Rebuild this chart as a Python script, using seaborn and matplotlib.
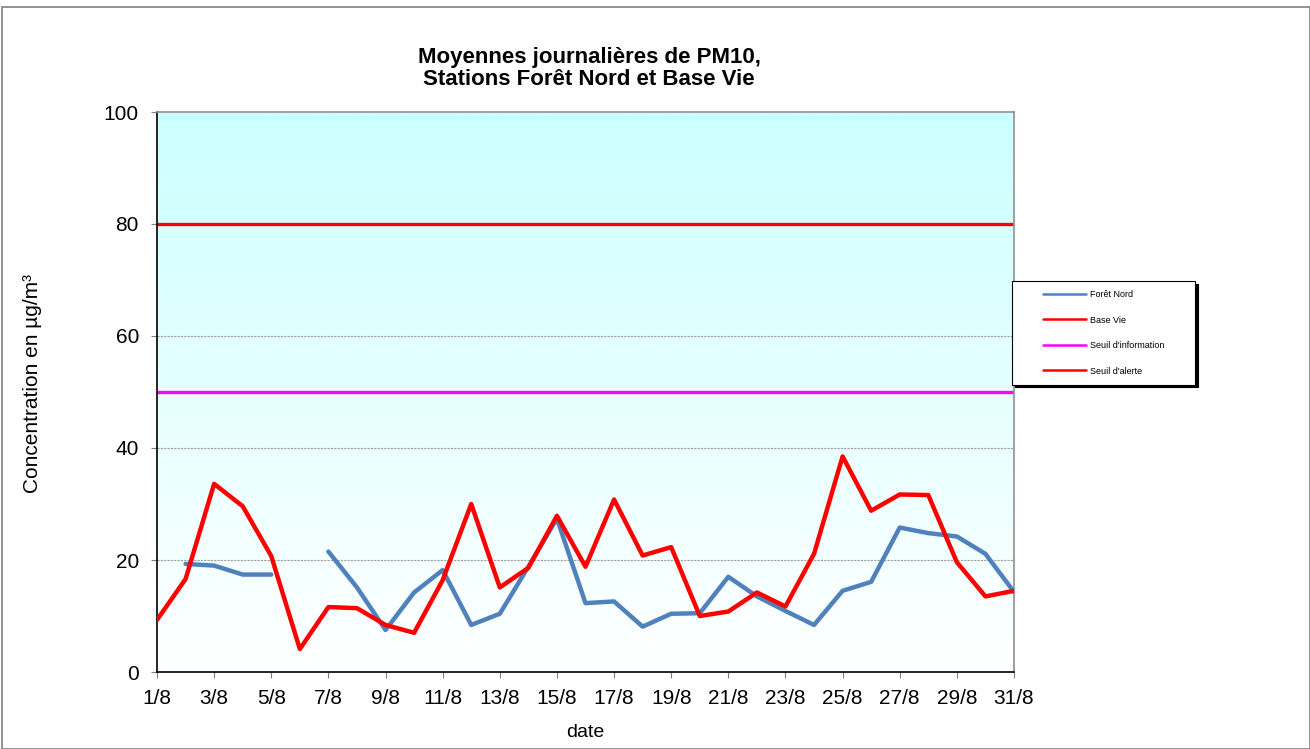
import numpy as np
import pandas as pd
import matplotlib
matplotlib.use("Agg")
import matplotlib.pyplot as plt
import seaborn as sns
from matplotlib.colors import LinearSegmentedColormap
from matplotlib.patches import Rectangle
from matplotlib.lines import Line2D
from matplotlib.legend_handler import HandlerLine2D

# ---- data ----
days = list(range(1, 32))
foret_nord = [np.nan, 19.3, 19.0, 17.4, 17.4, np.nan, 21.5, 15.1, 7.5, 14.2,
              18.2, 8.4, 10.4, 18.8, 27.4, 12.3, 12.6, 8.1, 10.4, 10.5,
              17.0, 13.5, 10.9, 8.4, 14.5, 16.1, 25.8, 24.8, 24.2, 21.1, 14.3]
base_vie = [9.3, 16.6, 33.6, 29.6, 20.7, 4.1, 11.6, 11.4, 8.4, 7.0,
            16.4, 30.0, 15.1, 18.6, 27.9, 18.8, 30.8, 20.8, 22.3, 10.0,
            10.8, 14.2, 11.7, 21.1, 38.5, 28.8, 31.7, 31.6, 19.6, 13.5, 14.5]
seuil_information = 50
seuil_alerte = 80
tick_days = list(range(1, 32, 2))
tick_labels = [f"{d}/8" for d in tick_days]
y_ticks = [0, 20, 40, 60, 80, 100]
legend_labels = ["Forêt Nord", "Base Vie", "Seuil d'information", "Seuil d'alerte"]
legend_colors = ["#4F81BD", "#FF0000", "#FF00FF", "#FF0000"]

sns.set_theme(style="white")
plt.rcParams['font.family'] = ['Liberation Sans', 'DejaVu Sans']
plt.rcParams['text.color'] = 'black'
plt.rcParams['axes.labelcolor'] = 'black'

fig = plt.figure(figsize=(13.1, 7.49), dpi=100)
W, H = 1310, 749
ax = fig.add_axes([157 / W, 1 - 672 / H, (1014 - 157) / W, (672 - 112) / H])

# gradient background
cmap = LinearSegmentedColormap.from_list("bg", ["#FFFFFF", "#CCFFFF"])
grad = np.linspace(0, 1, 256).reshape(-1, 1)
ax.imshow(grad, cmap=cmap, aspect="auto", origin="lower",
          extent=[0, 1, 0, 1], transform=ax.transAxes, zorder=0)

# grid
for yv in [20, 40, 60]:
    ax.axhline(yv, color="#A0A0A0", lw=0.8, ls=(0, (2, 1)), zorder=1)

df_fn = pd.DataFrame({"day": days, "val": foret_nord})
df_fn["seg"] = df_fn["val"].isna().cumsum()
df_fn = df_fn.dropna()
df_bv = pd.DataFrame({"day": days, "val": base_vie})

sns.lineplot(data=df_fn, x="day", y="val", units="seg", estimator=None,
             color="#4F81BD", lw=3.2, ax=ax, zorder=3)
sns.lineplot(data=df_bv, x="day", y="val", color="#FF0000", lw=3.2, ax=ax, zorder=4)
ax.axhline(seuil_information, color="#FF00FF", lw=2.4, zorder=2)
ax.axhline(seuil_alerte, color="#FF0000", lw=2.4, zorder=2)

ax.set_xlim(1, 31)
ax.set_ylim(0, 100)
ax.set_xticks(tick_days)
ax.set_xticklabels(tick_labels)
ax.set_yticks(y_ticks)
ax.tick_params(axis="both", labelsize=15, length=4.5, width=0.8, color="#808080",
               labelcolor="black", direction="out", bottom=True, left=True)
ax.tick_params(axis="x", pad=8)
ax.tick_params(axis="y", pad=8.5)
ax.set_xlabel("date", fontsize=14, labelpad=11)
ax.set_ylabel("Concentration en µg/m³", fontsize=15)
ax.yaxis.set_label_coords((42 - 157) / (1014 - 157), 0.515)

for s in ["left", "bottom"]:
    ax.spines[s].set_color("black")
    ax.spines[s].set_linewidth(1.2)
for s in ["top", "right"]:
    ax.spines[s].set_color("#909090")
    ax.spines[s].set_linewidth(1.2)

fig.text(589 / W, 1 - 63 / H, "Moyennes journalières de PM10,",
         ha="center", va="baseline", fontsize=16, fontweight="bold")
fig.text(589 / W, 1 - 85 / H, "Stations Forêt Nord et Base Vie",
         ha="center", va="baseline", fontsize=16, fontweight="bold")


class PadHandler(HandlerLine2D):
    def create_artists(self, legend, orig_handle, xdescent, ydescent, width,
                       height, fontsize, trans):
        artists = super().create_artists(legend, orig_handle, xdescent, ydescent,
                                         width, height, fontsize, trans)
        line = artists[0]
        x = np.asarray(line.get_xdata(), dtype=float)
        y = np.asarray(line.get_ydata(), dtype=float)
        x0 = x.min() + (x.max() - x.min()) * 0.34
        line.set_data([x0, x.max()], [y.flat[0], y.flat[0]])
        return artists


handles = [Line2D([], [], color=c, lw=1.8) for c in legend_colors]
leg = fig.legend(handles, legend_labels, loc="upper left",
                 bbox_to_anchor=(1012 / W, 1 - 381 / H, 183 / W, 100 / H),
                 mode="expand",
                 handler_map={Line2D: PadHandler()},
                 fontsize=6.5, frameon=True, fancybox=False,
                 shadow={"color": "black", "alpha": 1.0},
                 edgecolor="black", framealpha=1, handlelength=7.2,
                 labelspacing=1.83, borderpad=1.0, handletextpad=0.45,
                 borderaxespad=0)
leg.get_frame().set_linewidth(0.8)
leg.set_zorder(10)

fig.patches.append(Rectangle((2 / W, 0), 1 - 2 / W, 1 - 7 / H, transform=fig.transFigure,
                             fill=False, edgecolor="#808080", lw=1.2))

fig.savefig("out.png", dpi=100)
